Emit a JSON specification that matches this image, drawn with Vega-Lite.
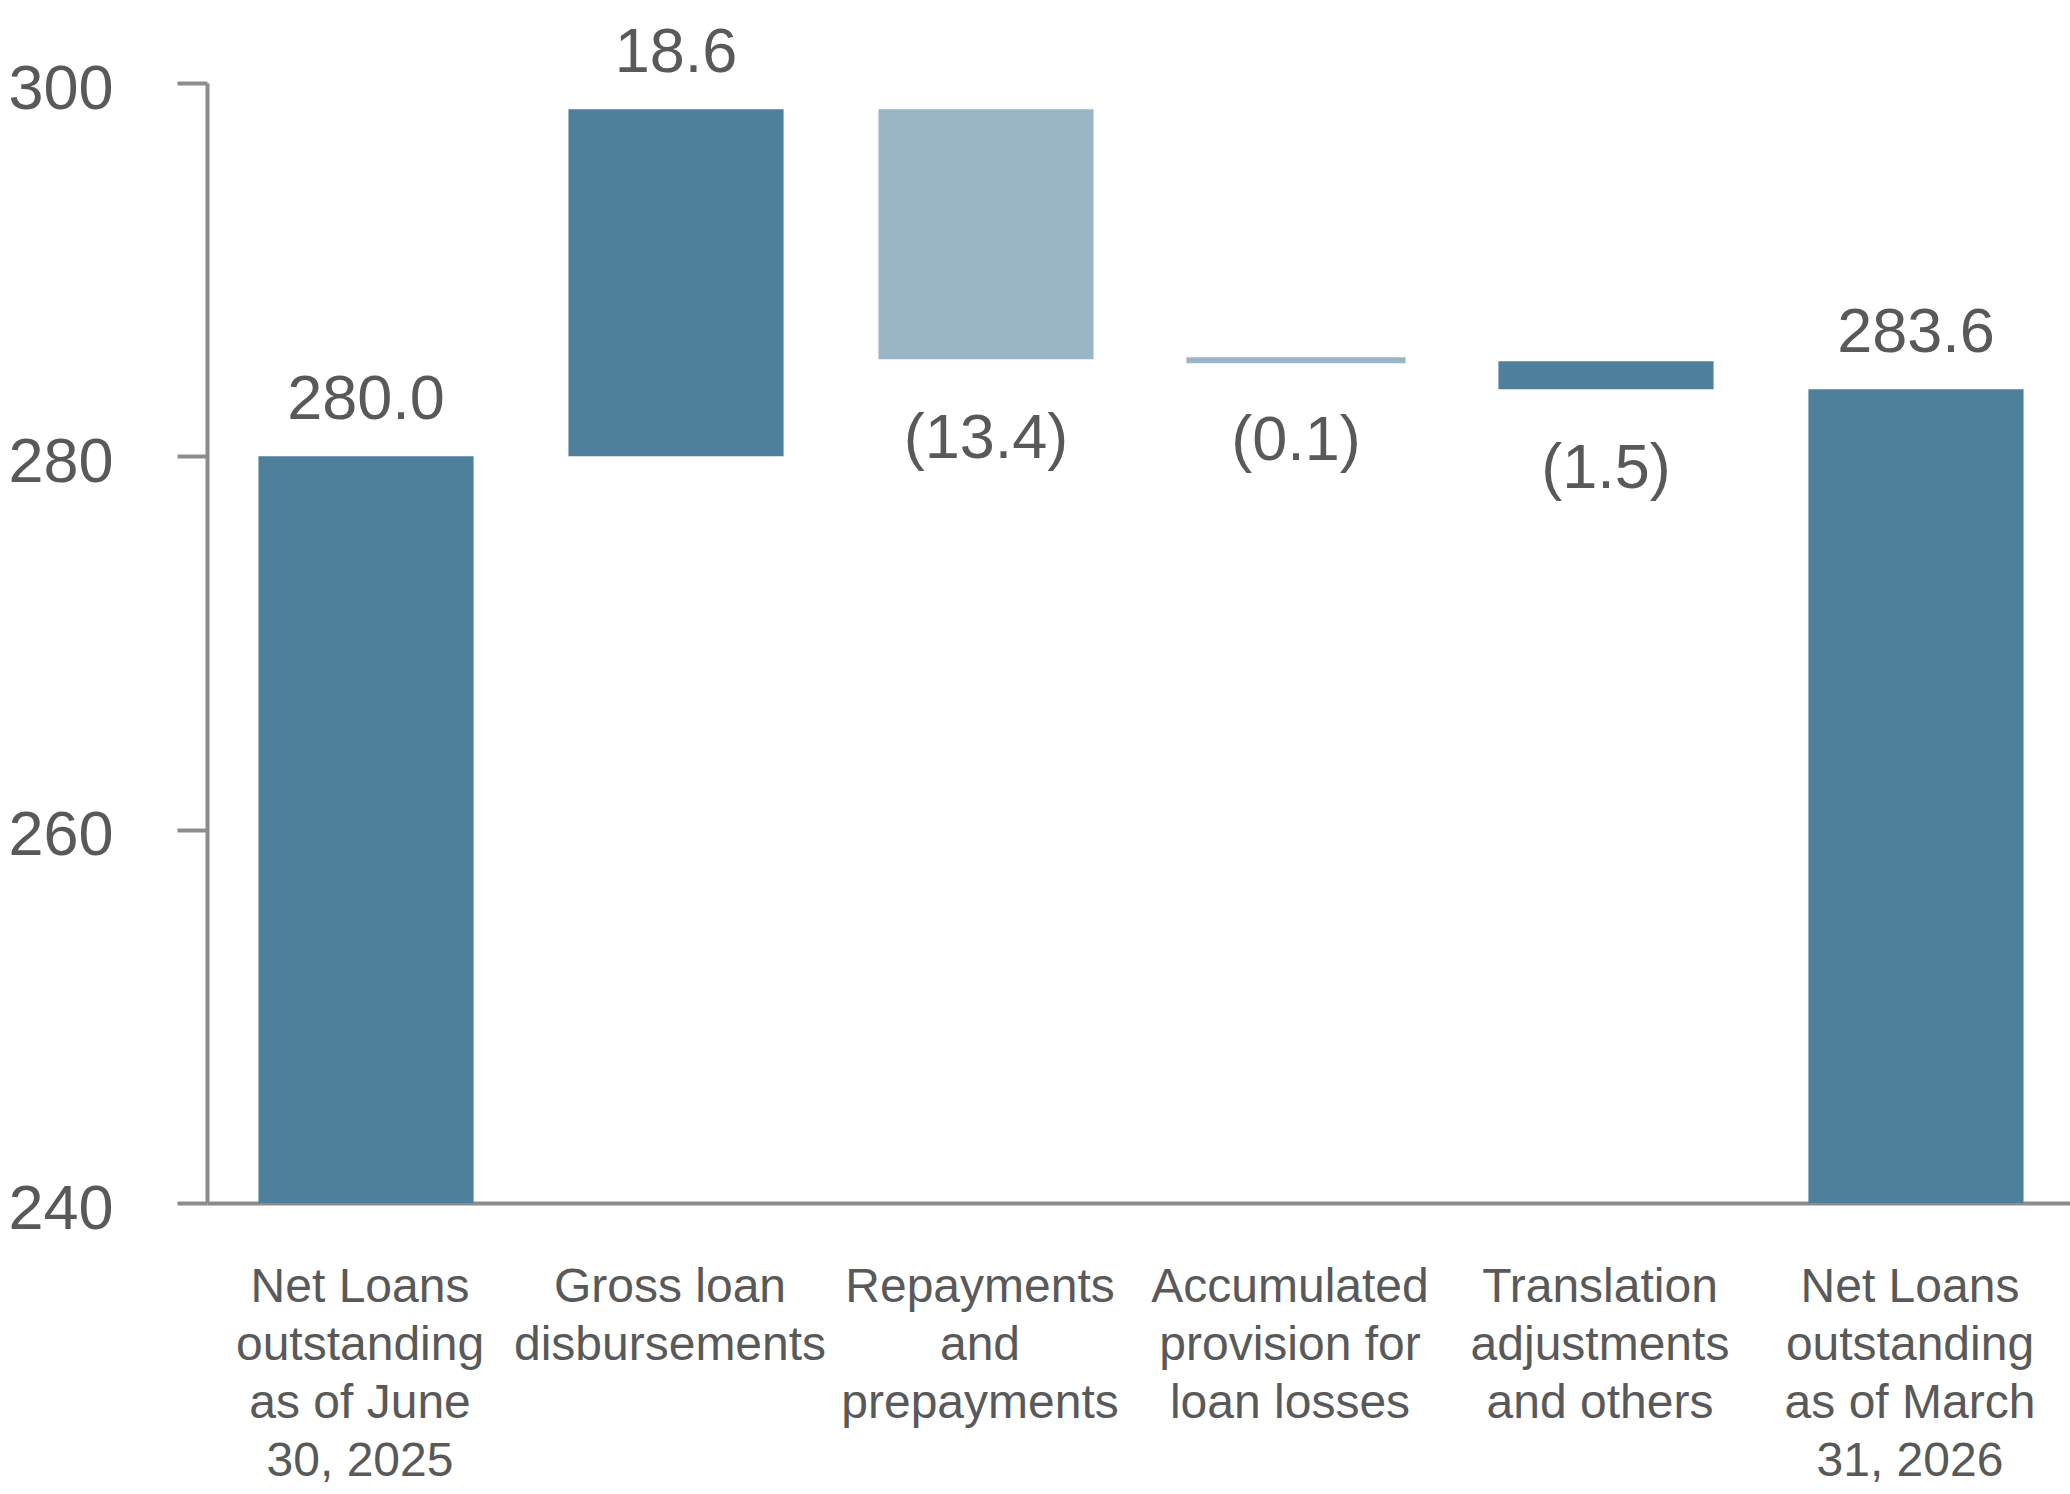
{
  "$schema": "https://vega.github.io/schema/vega-lite/v6.json",
  "autosize": "none",
  "width": 1868,
  "height": 1120,
  "padding": {"left": 207, "top": 83, "right": 0, "bottom": 291},
  "background": "white",
  "config": {
    "font": "Liberation Sans",
    "view": {"stroke": null}
  },
  "data": {
    "values": [
      {"step": "Net Loans|outstanding|as of June|30, 2025", "lo": 0, "hi": 280.0, "text": "280.0", "type": "total"},
      {"step": "Gross loan|disbursements", "lo": 280.0, "hi": 298.6, "text": "18.6", "type": "increase"},
      {"step": "Repayments|and|prepayments", "lo": 285.2, "hi": 298.6, "text": "(13.4)", "type": "decrease"},
      {"step": "Accumulated|provision for|loan losses", "lo": 285.1, "hi": 285.2, "text": "(0.1)", "type": "decrease"},
      {"step": "Translation|adjustments|and others", "lo": 283.6, "hi": 285.1, "text": "(1.5)", "type": "adjustment"},
      {"step": "Net Loans|outstanding|as of March|31, 2026", "lo": 0, "hi": 283.6, "text": "283.6", "type": "total"}
    ]
  },
  "encoding": {
    "x": {
      "field": "step",
      "type": "nominal",
      "sort": null,
      "title": null,
      "scale": {"paddingInner": 0.306, "paddingOuter": 0.166},
      "axis": {
        "labelExpr": "split(datum.value, '|')",
        "labelAngle": 0,
        "labelFontSize": 48,
        "labelLineHeight": 58,
        "labelColor": "#595959",
        "labelPadding": 60,
        "labelBaseline": "top",
        "labelLimit": 0,
        "labelOffset": -6,
        "ticks": false,
        "domainColor": "#8C8C8C",
        "domainWidth": 4
      }
    }
  },
  "layer": [
    {
      "mark": {"type": "bar", "clip": true},
      "encoding": {
        "y": {
          "field": "hi",
          "type": "quantitative",
          "title": null,
          "scale": {"domain": [240, 300], "zero": false, "nice": false},
          "axis": {
            "values": [240, 260, 280, 300],
            "grid": false,
            "tickSize": 30,
            "tickWidth": 4,
            "tickColor": "#8C8C8C",
            "domainColor": "#8C8C8C",
            "domainWidth": 4,
            "labelFontSize": 63,
            "labelColor": "#595959",
            "labelPadding": 64,
            "labelOffset": 6
          }
        },
        "y2": {"field": "lo"},
        "color": {
          "field": "type",
          "type": "nominal",
          "legend": null,
          "scale": {
            "domain": ["total", "increase", "decrease", "adjustment"],
            "range": ["#4E7F9B", "#4E7F9B", "#9AB5C6", "#4E7F9B"]
          }
        },
        "stroke": {
          "field": "type",
          "type": "nominal",
          "legend": null,
          "scale": {
            "domain": ["total", "increase", "decrease", "adjustment"],
            "range": ["#4E7F9B", "#4E7F9B", "#9AB5C6", "#4E7F9B"]
          }
        },
        "strokeWidth": {
          "condition": {"test": "datum.hi - datum.lo < 0.5", "value": 4},
          "value": 0
        }
      }
    },
    {
      "transform": [{"filter": "datum.type == 'total' || datum.type == 'increase'"}],
      "mark": {"type": "text", "baseline": "alphabetic", "dy": -37, "fontSize": 63, "color": "#595959"},
      "encoding": {
        "y": {"field": "hi", "type": "quantitative"},
        "text": {"field": "text"}
      }
    },
    {
      "transform": [{"filter": "datum.type == 'decrease' || datum.type == 'adjustment'"}],
      "mark": {"type": "text", "baseline": "top", "dy": 49, "fontSize": 63, "color": "#595959"},
      "encoding": {
        "y": {"field": "lo", "type": "quantitative"},
        "text": {"field": "text"}
      }
    }
  ]
}
